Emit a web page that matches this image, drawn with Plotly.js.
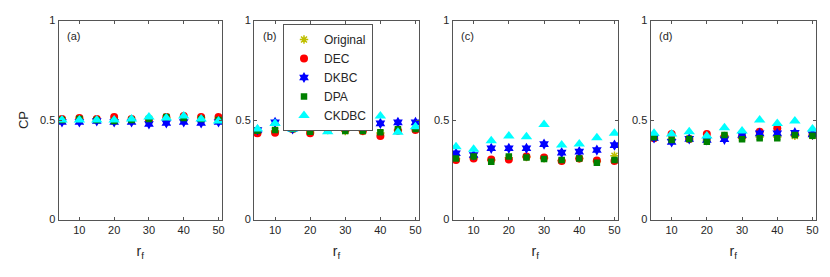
<!DOCTYPE html>
<html>
<head>
<meta charset="utf-8">
<script src="https://cdn.plot.ly/plotly-3.0.1.min.js"></script>
<style>html,body{margin:0;padding:0;background:#fff;}#chart{width:830px;height:277px;}</style>
</head>
<body>
<div id="chart"></div>
<script>
// r_f values
const rf = [5, 10, 15, 20, 25, 30, 35, 40, 45, 50];
const seriesNames = ['Original', 'DEC', 'DKBC', 'DPA', 'CKDBC'];
const panelLabels = ['(a)', '(b)', '(c)', '(d)'];
const xTicks = [10, 20, 30, 40, 50];
const yTicks = [0, 0.5, 1];
const yTickText = ['0', '0.5', '1'];

// Panel (a)
const a_original = [0.50, 0.505, 0.50, 0.50, 0.50, 0.505, 0.51, 0.515, 0.51, 0.505];
const a_dec      = [0.505, 0.51, 0.505, 0.515, 0.505, 0.50, 0.515, 0.52, 0.515, 0.515];
const a_dkbc     = [0.49, 0.49, 0.495, 0.49, 0.49, 0.48, 0.485, 0.49, 0.485, 0.49];
const a_dpa      = [0.50, 0.505, 0.50, 0.495, 0.50, 0.505, 0.515, 0.51, 0.505, 0.50];
const a_ckdbc    = [0.50, 0.50, 0.50, 0.50, 0.505, 0.515, 0.51, 0.52, 0.505, 0.495];

// Panel (b)
const b_original = [0.44, 0.445, 0.455, 0.44, 0.45, 0.445, 0.445, 0.435, 0.45, 0.455];
const b_dec      = [0.433, 0.436, 0.455, 0.433, 0.45, 0.45, 0.445, 0.42, 0.446, 0.45];
const b_dkbc     = [0.45, 0.488, 0.455, 0.483, 0.476, 0.47, 0.487, 0.483, 0.488, 0.488];
const b_dpa      = [0.446, 0.45, 0.455, 0.441, 0.45, 0.445, 0.445, 0.438, 0.453, 0.455];
const b_ckdbc    = [0.455, 0.483, 0.455, 0.47, 0.441, 0.475, 0.49, 0.52, 0.438, 0.466];

// Panel (c)
const c_original = [0.305, 0.312, 0.298, 0.31, 0.314, 0.308, 0.297, 0.307, 0.292, 0.32];
const c_dec      = [0.299, 0.307, 0.302, 0.302, 0.316, 0.311, 0.294, 0.307, 0.296, 0.294];
const c_dkbc     = [0.333, 0.324, 0.358, 0.358, 0.358, 0.379, 0.336, 0.341, 0.349, 0.374];
const c_dpa      = [0.307, 0.316, 0.29, 0.316, 0.311, 0.304, 0.299, 0.307, 0.285, 0.299];
const c_ckdbc    = [0.366, 0.353, 0.396, 0.42, 0.416, 0.478, 0.374, 0.379, 0.411, 0.433];

// Panel (d)
const d_original = [0.41, 0.405, 0.405, 0.40, 0.42, 0.41, 0.415, 0.415, 0.42, 0.42];
const d_dec      = [0.408, 0.43, 0.405, 0.43, 0.416, 0.416, 0.441, 0.458, 0.428, 0.425];
const d_dkbc     = [0.41, 0.39, 0.405, 0.40, 0.403, 0.425, 0.433, 0.433, 0.436, 0.428];
const d_dpa      = [0.413, 0.40, 0.405, 0.391, 0.425, 0.403, 0.408, 0.408, 0.425, 0.421];
const d_ckdbc    = [0.433, 0.43, 0.441, 0.42, 0.461, 0.445, 0.50, 0.483, 0.495, 0.455];

const panels = [
  [a_original, a_dec, a_dkbc, a_dpa, a_ckdbc],
  [b_original, b_dec, b_dkbc, b_dpa, b_ckdbc],
  [c_original, c_dec, c_dkbc, c_dpa, c_ckdbc],
  [d_original, d_dec, d_dkbc, d_dpa, d_ckdbc]
];

const markerStyles = [
  {symbol: 'asterisk-open', size: 7, color: '#bfbf00', line: {color: '#bfbf00', width: 1.5}},
  {symbol: 'circle', size: 8, color: '#ff0000', line: {width: 0}},
  {symbol: 'hexagram', size: 8.5, color: '#0000ff', line: {width: 0}},
  {symbol: 'square', size: 6.5, color: '#008000', line: {width: 0}},
  {symbol: 'triangle-up', size: 10, color: '#00ffff', line: {width: 0}}
];

const W = 830, H = 277;
const xDomPx = [[58.5, 222], [254, 419], [452.5, 618], [650.5, 816]];
const yTopPx = 20.5, yBotPx = 219.5;

const traces = [];
panels.forEach((p, pi) => {
  p.forEach((vals, si) => {
    traces.push({
      x: rf, y: vals, type: 'scatter', mode: 'markers',
      name: seriesNames[si], legendgroup: seriesNames[si],
      showlegend: pi === 1,
      xaxis: pi === 0 ? 'x' : 'x' + (pi + 1),
      yaxis: pi === 0 ? 'y' : 'y' + (pi + 1),
      marker: markerStyles[si],
      hoverinfo: 'skip'
    });
  });
});

const font = {family: 'Liberation Sans, Arial, Helvetica, sans-serif', size: 11, color: '#262626'};
const layout = {
  width: W, height: H,
  margin: {l: 0, r: 0, t: 0, b: 0},
  paper_bgcolor: '#fff', plot_bgcolor: '#fff',
  font: font,
  showlegend: true,
  legend: {
    x: 283 / W, y: 1 - 24 / H, xanchor: 'left', yanchor: 'top',
    bgcolor: '#fff', bordercolor: '#555', borderwidth: 1,
    font: {family: font.family, size: 12, color: '#262626'},
    itemwidth: 30, tracegroupgap: 0
  },
  annotations: []
};

xDomPx.forEach((d, i) => {
  const sx = i === 0 ? '' : String(i + 1);
  layout['xaxis' + sx] = {
    domain: [d[0] / W, d[1] / W],
    anchor: 'y' + sx,
    range: [4, 51],
    tickvals: xTicks, ticktext: xTicks.map(String),
    ticks: 'inside', ticklen: 3, tickcolor: '#555',
    showline: true, linecolor: '#555', linewidth: 1, mirror: 'ticks',
    showgrid: false, zeroline: false,
    tickfont: {size: 11, color: '#262626'},
    title: {text: 'r<sub>f</sub>', font: {size: 14, color: '#262626'}, standoff: 11}
  };
  layout['yaxis' + sx] = {
    domain: [1 - yBotPx / H, 1 - yTopPx / H],
    anchor: 'x' + sx,
    range: [0, 1],
    tickvals: yTicks, ticktext: yTickText,
    ticks: 'inside', ticklen: 3, tickcolor: '#555',
    showline: true, linecolor: '#555', linewidth: 1, mirror: 'ticks',
    showgrid: false, zeroline: false,
    tickfont: {size: 11, color: '#262626'},
    title: i === 0 ? {text: 'CP', font: {size: 13, color: '#262626'}, standoff: 8} : {text: ''}
  };
  layout.annotations.push({
    text: panelLabels[i], xref: 'x' + sx + ' domain', yref: 'y' + sx + ' domain',
    x: 0.04, y: 0.96, xanchor: 'left', yanchor: 'top', showarrow: false,
    font: {size: 11, color: '#262626'}
  });
});

Plotly.newPlot('chart', traces, layout, {staticPlot: true, displayModeBar: false});
</script>
</body>
</html>
